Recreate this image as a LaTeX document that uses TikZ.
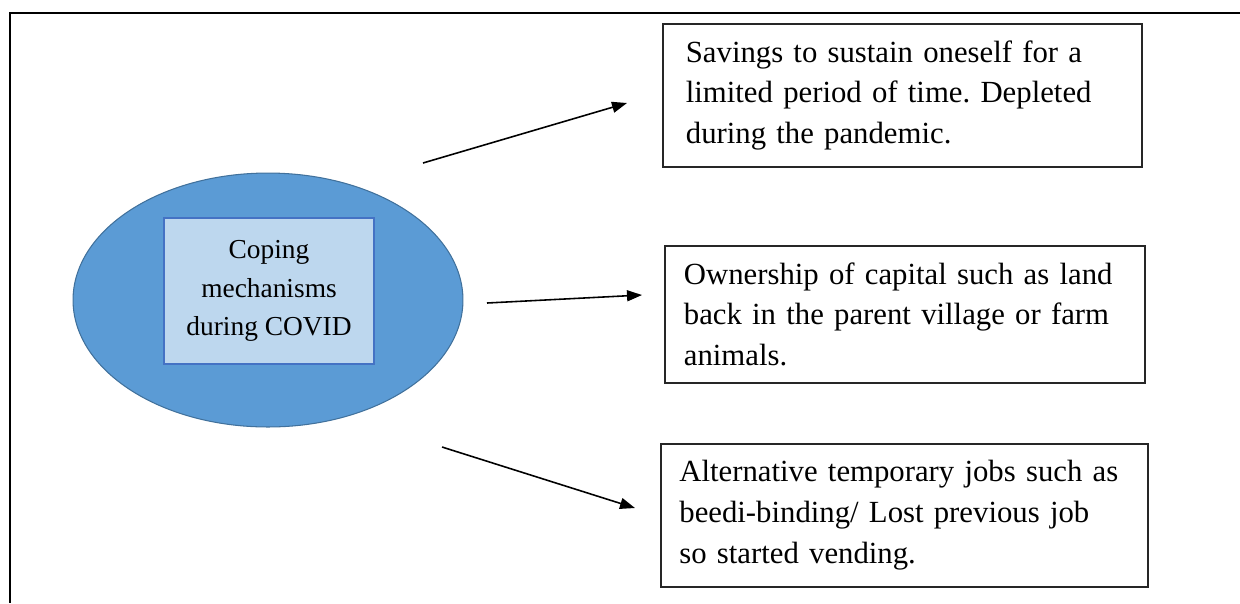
\documentclass[tikz,border=0pt]{standalone}
\usepackage{fontspec}
\setmainfont{Liberation Serif}
\usepackage{tikz}
\usetikzlibrary{shapes.geometric}
\usetikzlibrary{arrows.meta}
\definecolor{ovalblue}{HTML}{5B9BD5}
\definecolor{ovalline}{HTML}{41719C}
\definecolor{coreblue}{HTML}{BDD7EE}
\definecolor{coreline}{HTML}{4472C4}
\frenchspacing

\begin{document}
\begin{tikzpicture}[x=0.02cm, y=-0.02cm]
    \tikzstyle{oval}=[ellipse, draw=ovalline, fill=ovalblue, line width=0.6pt, minimum width=7.8cm, minimum height=5.08cm];
    \tikzstyle{core}=[draw=coreline, fill=coreblue, line width=0.7pt, minimum width=4.2cm, minimum height=2.92cm, align=center, font=\fontsize{15.6}{21.8}\selectfont];
    \tikzstyle{txtbox}=[draw=black!85, line width=1pt, anchor=north west, align=left, inner ysep=0.3cm, font=\fontsize{17.5}{23.2}\selectfont];
    \tikzstyle{arr}=[line width=0.9pt, -{Triangle[length=0.3cm, width=0.22cm]}];
    \useasboundingbox (0,0) rectangle (1240,603);
    % outer frame
    \draw[line width=1.2pt] (1240,13) -- (10,13) -- (10,603);
    % centre
    \node[oval] (oval) at (268,300) {};
    \node[core] (core) at (269,291) {Coping\\mechanisms\\during COVID};
    % boxes
    \node[txtbox, inner xsep=0.46cm, text width=8.66cm, minimum height=2.86cm] (savings) at (662,23) {Savings to sustain oneself for a\\limited period of time. Depleted\\during the pandemic.};
    \node[txtbox, inner xsep=0.38cm, text width=8.84cm, minimum height=2.74cm] (capital) at (664,245) {Ownership of capital such as land\\back in the parent village or farm\\animals.};
    \node[txtbox, inner xsep=0.37cm, text width=9cm, minimum height=2.86cm] (jobs) at (660,443) {Alternative temporary jobs such as\\beedi-binding/ Lost previous job\\so started vending.};
    % arrows
    \coordinate (s1) at (423,163);
    \coordinate (t1) at (627,103);
    \coordinate (s2) at (487,303);
    \coordinate (t2) at (642,295);
    \coordinate (s3) at (442,447);
    \coordinate (t3) at (635,508);
    \foreach \i in {1,2,3} {
      \draw[arr] (s\i) -- (t\i);
    }
\end{tikzpicture}
\end{document}
